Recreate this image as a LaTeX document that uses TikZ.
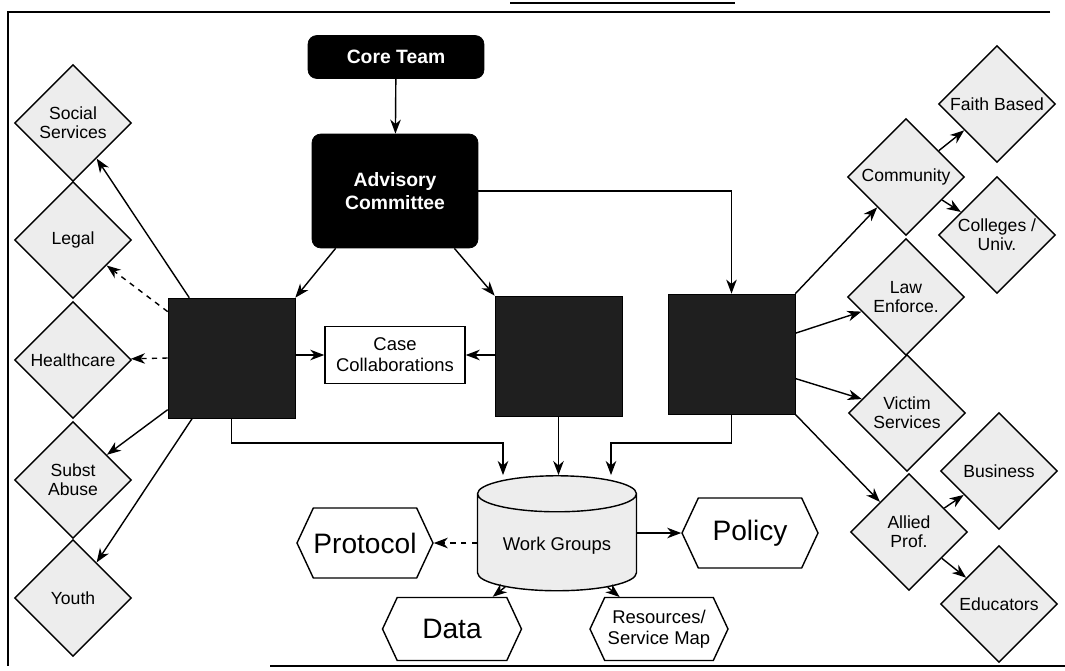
\documentclass[tikz,border=0pt]{standalone}
\usepackage{fontspec}
\setmainfont{Liberation Sans}
\usetikzlibrary{shapes.geometric}
\usetikzlibrary{shapes.symbols}
\usetikzlibrary{arrows.meta}
\tikzset{>={Stealth[length=8pt,width=6pt,inset=2.5pt]}}
\tikzset{
  lead/.style={rectangle, rounded corners=5pt, fill=black, draw=black, text=white,
    font=\bfseries\fontsize{11}{13}\selectfont, align=center},
  team/.style={rectangle, fill=black!88, draw=black, minimum width=2.54cm, minimum height=2.4cm},
  agency/.style={diamond, draw, line width=0.8pt, fill=black!7, minimum width=2.34cm,
    minimum height=2.34cm, inner sep=0pt, align=center, font=\fontsize{10}{11}\selectfont},
  product/.style={signal, signal to=east and west, signal pointer angle=130, draw,
    line width=0.8pt, minimum width=2.72cm, minimum height=1.4cm, inner sep=0pt, align=center},
  link/.style={->, line width=0.8pt}
}

\begin{document}
\begin{tikzpicture}[x=0.02cm, y=-0.02cm]
  \useasboundingbox (0,0) rectangle (1065,670);
  % frame
  \draw[line width=0.8pt] (1050,12) -- (8,12) -- (8,666);
  \draw[line width=0.8pt] (270,666) -- (1065,666);
  \draw[line width=1.6pt] (510,3) -- (735,3);

  \node[lead, minimum width=3.52cm, minimum height=0.86cm] (core) at (396,57) {Core Team};
  \node[lead, minimum width=3.32cm, minimum height=2.28cm] (adv) at (395,191) {Advisory\\Committee};

  \node[team] (lbox) at (231.5,358) {};
  \node[team] (mbox) at (558.5,356) {};
  \node[team] (rbox) at (731.5,354) {};
  \node[draw, line width=0.8pt, minimum width=2.8cm, minimum height=1.14cm, align=center,
    font=\fontsize{10.5}{12}\selectfont] (case) at (395,355) {Case\\Collaborations};

  \node[cylinder, shape border rotate=90, aspect=0.3, draw, line width=0.8pt, fill=black!7,
    minimum width=3.18cm, minimum height=2.3cm, font=\fontsize{10.5}{12}\selectfont] (wg) at (557,546) {Work Groups};
  \node[product, font=\fontsize{16}{18}\selectfont] (pro) at (365,543) {Protocol};
  \node[product, font=\fontsize{16}{18}\selectfont] (pol) at (750,533) {Policy};
  \node[product, minimum width=2.78cm, minimum height=1.26cm, font=\fontsize{16}{18}\selectfont] (data) at (452,629) {Data};
  \node[product, minimum width=2.76cm, minimum height=1.26cm, font=\fontsize{10.5}{12}\selectfont] (res) at (659,629) {Resources/\\Service Map};

  % left agencies
  \node[agency] (ss) at (73,123) {Social\\Services};
  \node[agency] (lg) at (73,240) {Legal};
  \node[agency] (hc) at (73,360) {Healthcare};
  \node[agency] (sa) at (73,480) {Subst\\Abuse};
  \node[agency] (yo) at (73,598) {Youth};

  % right agencies
  \node[agency] (com) at (906,177) {Community};
  \node[agency] (le) at (906,297) {Law\\Enforce.};
  \node[agency] (vs) at (907,413) {Victim\\Services};
  \node[agency] (ap) at (909,532) {Allied\\Prof.};
  \node[agency] (fb) at (997,104) {Faith Based};
  \node[agency] (col) at (997,235) {Colleges /\\Univ.};
  \node[agency] (bus) at (999,471) {Business};
  \node[agency] (edu) at (999,604) {Educators};

  \coordinate (lj) at (503,443);
  \coordinate (rj) at (611,443);

  \draw[link] (core) -- (adv);
  \draw[link] (adv.-136) -- (lbox.north east);
  \draw[link] (adv.-44) -- (mbox.north west);
  \draw[link] (adv.east) -| (rbox.north);

  \draw[link] (case.west -| lbox.east) -- (case.west);
  \draw[link] (case.east -| mbox.west) -- (case.east);

  \draw[link] (lbox.125) -- (ss);
  \draw[link, dashed] (lbox.144) -- (lg);
  \draw[link, dashed] (lbox.west) -- (hc);
  \draw[link] (lbox.-141) -- (sa);
  \draw[link] (lbox.-123) -- (yo);

  \draw[link] (rbox.north east) -- (com);
  \draw[link] (rbox.18) -- (le);
  \draw[link] (rbox.-21) -- (vs);
  \draw[link] (rbox.south east) -- (ap);
  \draw[link] (com) -- (fb);
  \draw[link] (com) -- (col);
  \draw[link] (ap) -- (bus);
  \draw[link] (ap) -- (edu);

  \draw[link] (lbox.south) |- (lj) -- (lj |- wg.north);
  \draw[link] (mbox.south) -- (mbox.south |- wg.north);
  \draw[link] (rbox.south) |- (rj) -- (rj |- wg.north);

  \draw[link, dashed] (wg.west |- pro.east) -- (pro.east);
  \draw[link] (wg.east |- pol.west) -- (pol.west);
  \draw[link] (wg) -- (data);
  \draw[link] (wg) -- (res);
\end{tikzpicture}
\end{document}
